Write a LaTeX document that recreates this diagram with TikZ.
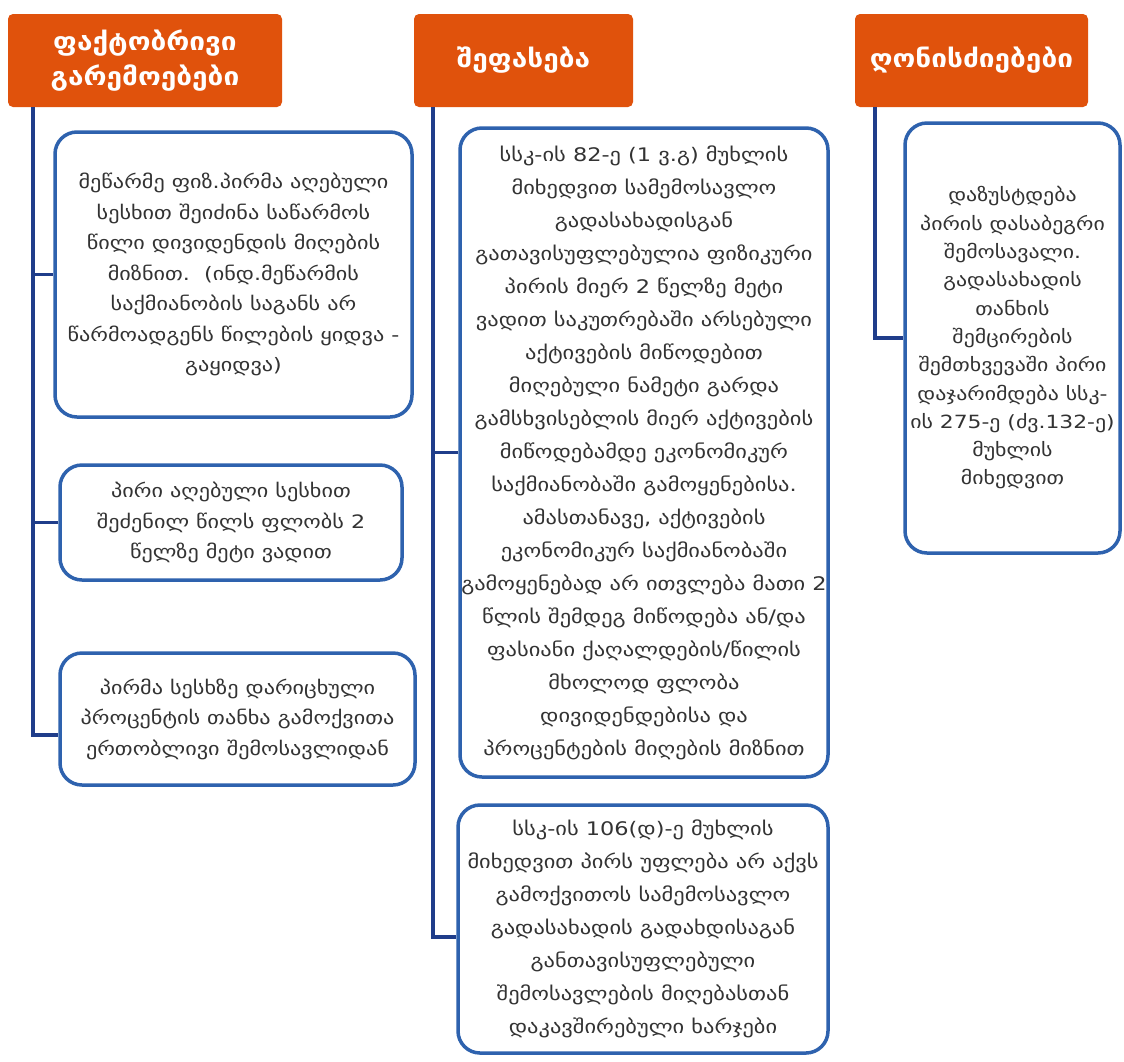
\documentclass[tikz,border=0pt]{standalone}
\usepackage{fontspec}
\setmainfont{DejaVu Sans}
\newfontfamily\geo{DejaVu Sans}[FakeStretch=1.2]
\newfontfamily\geoh{DejaVu Sans}[FakeStretch=1.12]
\usetikzlibrary{calc}
\definecolor{hdr}{HTML}{E0520C}
\definecolor{bord}{HTML}{2E62AE}
\definecolor{lnk}{HTML}{1F3D8A}
\definecolor{txt}{HTML}{333333}
\begin{document}
\begin{tikzpicture}[x=1pt,y=-1pt,
  hdrbox/.style={fill=hdr, rounded corners=5pt, text=white, align=center, inner sep=0pt,
    font=\geoh\fontsize{25}{35}\selectfont\bfseries},
  bodybox/.style={draw=bord, line width=3.5pt, fill=white, rounded corners=22pt, text=txt,
    align=center, inner sep=0pt, font=\geo\fontsize{18.5}{30.5}\selectfont},
  midbox/.style={bodybox, font=\geo\fontsize{18.7}{33}\selectfont},
  rbox/.style={bodybox, font=\geo\fontsize{18.2}{28.3}\selectfont},
  link/.style={draw=lnk, line width=3.5pt}]
\fill[white] (0,0) rectangle (1124,1061);
\path[use as bounding box] (0,0) rectangle (1124,1061);

% headers
\node[hdrbox, minimum width=274pt, minimum height=93pt] (h1) at (145,60.5) {ფაქტობრივი\\გარემოებები};
\node[hdrbox, minimum width=219pt, minimum height=93pt] (h2) at (523.5,60.5) {შეფასება};
\node[hdrbox, minimum width=233pt, minimum height=93pt] (h3) at (971.5,60.5) {ღონისძიებები};

% trunk start points
\coordinate (t1) at (33,107);
\coordinate (t2) at (433,107);
\coordinate (t3) at (875,107);

% left column
\node[bodybox, minimum width=357pt, minimum height=285pt] (l1) at (233.5,274.5)
  {მეწარმე ფიზ.პირმა აღებული\\სესხით შეიძინა საწარმოს\\წილი დივიდენდის მიღების\\მიზნით.\ \ (ინდ.მეწარმის\\საქმიანობის საგანს არ\\წარმოადგენს წილების ყიდვა -\\გაყიდვა)};
\node[bodybox, minimum width=342pt, minimum height=115pt] (l2) at (231,522.5)
  {პირი აღებული სესხით\\შეძენილ წილს ფლობს 2\\წელზე მეტი ვადით};
\node[bodybox, minimum width=355pt, minimum height=132pt] (l3) at (237.5,719)
  {პირმა სესხზე დარიცხული\\პროცენტის თანხა გამოქვითა\\ერთობლივი შემოსავლიდან};

% middle column
\node[midbox, minimum width=368pt, minimum height=649pt] (m1) at (644,452.5)
  {სსკ-ის 82-ე (1 ვ.გ) მუხლის\\მიხედვით სამემოსავლო\\გადასახადისგან\\გათავისუფლებულია ფიზიკური\\პირის მიერ 2 წელზე მეტი\\ვადით საკუთრებაში არსებული\\აქტივების მიწოდებით\\მიღებული ნამეტი გარდა\\გამსხვისებლის მიერ აქტივების\\მიწოდებამდე ეკონომიკურ\\საქმიანობაში გამოყენებისა.\\ამასთანავე, აქტივების\\ეკონომიკურ საქმიანობაში\\გამოყენებად არ ითვლება მათი 2\\წლის შემდეგ მიწოდება ან/და\\ფასიანი ქაღალდების/წილის\\მხოლოდ ფლობა\\დივიდენდებისა და\\პროცენტების მიღების მიზნით};
\node[midbox, minimum width=370pt, minimum height=248pt] (m2) at (643,929)
  {სსკ-ის 106(დ)-ე მუხლის\\მიხედვით პირს უფლება არ აქვს\\გამოქვითოს სამემოსავლო\\გადასახადის გადახდისაგან\\განთავისუფლებული\\შემოსავლების მიღებასთან\\დაკავშირებული ხარჯები};

% right column
\node[rbox, minimum width=215pt, minimum height=430pt] (r1) at (1012.5,338)
  {დაზუსტდება\\პირის დასაბეგრი\\შემოსავალი.\\გადასახადის\\თანხის\\შემცირების\\შემთხვევაში პირი\\დაჯარიმდება სსკ-\\ის 275-ე (ძვ.132-ე)\\მუხლის\\მიხედვით};

% connectors
\draw[link] (t1) |- (l1.west);
\draw[link] (t1) |- (l2.west);
\draw[link] (t1) |- ([yshift=-16pt]l3.west);
\draw[link] (t2) |- (m1.west);
\draw[link] (t2) |- ([yshift=-8pt]m2.west);
\draw[link] (t3) |- (r1.west);
\end{tikzpicture}
\end{document}
